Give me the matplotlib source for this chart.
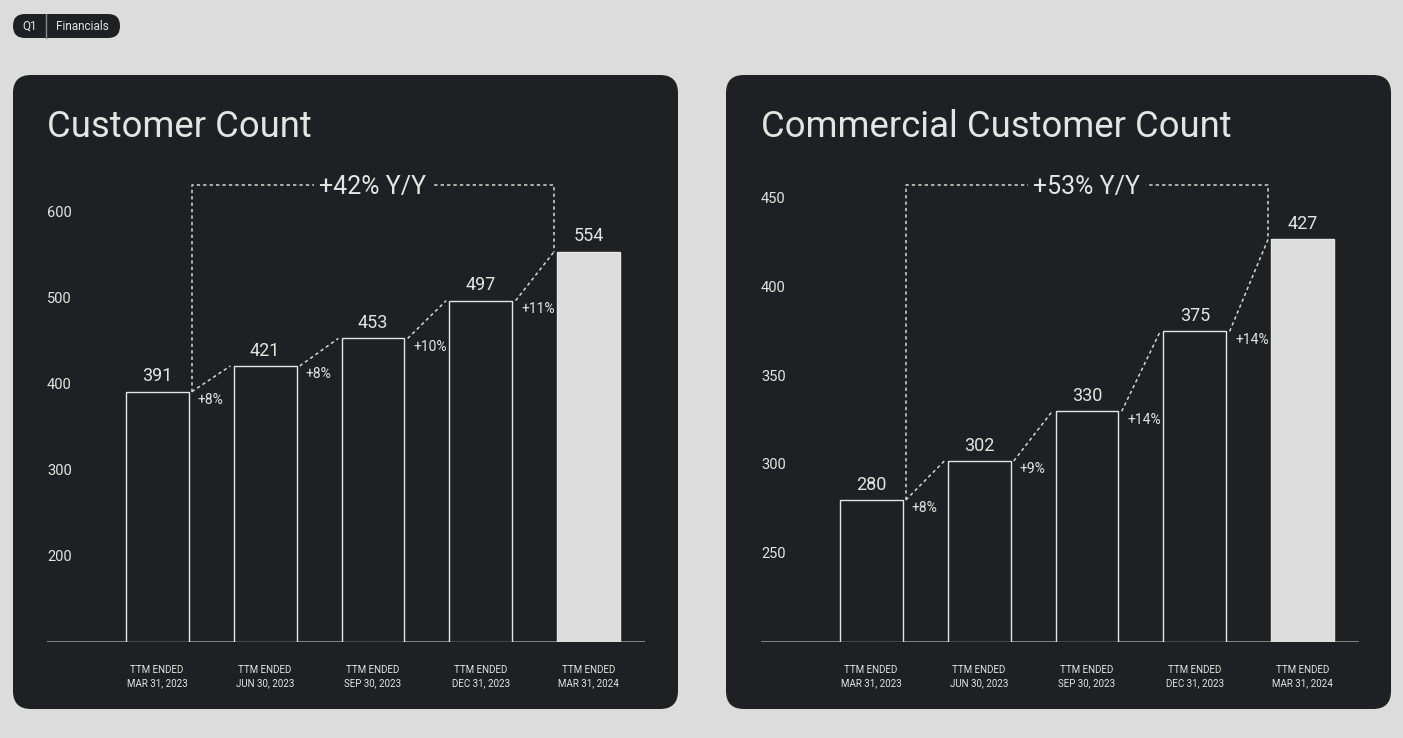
import numpy as np
import matplotlib
matplotlib.use("Agg")
import matplotlib.pyplot as plt
from matplotlib.patches import FancyBboxPatch

plt.rcParams["font.family"] = ["Roboto", "DejaVu Sans"]

W, H = 1403, 738
BG = "#dcdcdc"
PANEL = "#1f2023"
TXT = "#e4e4e4"
LINE = "#d6d6d6"

periods = ["TTM ENDED\nMAR 31, 2023", "TTM ENDED\nJUN 30, 2023", "TTM ENDED\nSEP 30, 2023",
           "TTM ENDED\nDEC 31, 2023", "TTM ENDED\nMAR 31, 2024"]

cust_title = "Customer Count"
cust_vals = [391, 421, 453, 497, 554]
cust_qoq = ["+8%", "+8%", "+10%", "+11%"]
cust_yoy = "+42% Y/Y"
cust_ticks = [200, 300, 400, 500, 600]
cust_ylim = (100, 672.1)

comm_title = "Commercial Customer Count"
comm_vals = [280, 302, 330, 375, 427]
comm_qoq = ["+8%", "+9%", "+14%", "+14%"]
comm_yoy = "+53% Y/Y"
comm_ticks = [250, 300, 350, 400, 450]
comm_ylim = (200, 477.2)

fig = plt.figure(figsize=(W / 100, H / 100), dpi=100)
fig.patch.set_facecolor(BG)

# background layer in pixel coordinates
bg = fig.add_axes([0, 0, 1, 1])
bg.set_xlim(0, W); bg.set_ylim(H, 0); bg.axis("off")

# badge
bg.add_patch(FancyBboxPatch((13, 14), 107, 24, boxstyle="round,pad=0,rounding_size=12",
                            fc=PANEL, ec="none"))
bg.plot([46, 46], [14, 38], color="#8a8a8a", lw=1)
bg.text(30, 26.5, "Q1", color=TXT, fontsize=8.5, ha="center", va="center")
bg.text(82, 26.5, "Financials", color=TXT, fontsize=8.5, ha="center", va="center")

# panels
for x0 in (13, 726):
    bg.add_patch(FancyBboxPatch((x0, 75), 665, 634, boxstyle="round,pad=0,rounding_size=18",
                                fc=PANEL, ec="none"))


def panel(px_left, title, vals, qoq, yoy, ticks, ylim):
    bg.text(px_left, 137, title, color=TXT, fontsize=26.3, ha="left", va="baseline")
    ax = fig.add_axes([px_left / W, (H - 642) / H, 598 / W, 492 / H])
    ax.set_facecolor("none")
    ax.set_xlim(-1.02, 4.52)
    ax.set_ylim(*ylim)
    for s in ax.spines.values():
        s.set_visible(False)
    ax.set_yticks([])
    ax.axhline(ylim[0], color="#8c8c8c", lw=1.3, zorder=1)

    x = np.arange(len(vals))
    w = 0.583
    fc = [PANEL] * (len(vals) - 1) + [BG]
    ax.bar(x, np.array(vals) - ylim[0], w, bottom=ylim[0], color=fc, edgecolor="#e6e6e6",
           lw=1.0, zorder=2)

    for t in ticks:
        ax.annotate(str(t), (0, t), xycoords=ax.get_yaxis_transform(), xytext=(0, -0.7),
                    textcoords="offset points", color=TXT, fontsize=10.5,
                    ha="left", va="center")

    for i, v in enumerate(vals):
        ax.annotate(str(v), (i, v), xytext=(0, 7.5), textcoords="offset points",
                    ha="center", va="baseline", color=TXT, fontsize=13)

    gap = 0.03
    dots = dict(color=LINE, lw=1.1, ls=(0, (2.2, 2)), zorder=3)
    for i, lab in enumerate(qoq):
        ax.plot([i + w / 2 + gap, i + 1 - w / 2 - gap], [vals[i], vals[i + 1]], **dots)
        ax.annotate(lab, (i + w / 2, vals[i]), xytext=(6.5, -6), textcoords="offset points",
                    ha="left", va="center", color=TXT, fontsize=10)

    # year-over-year bracket
    top = ylim[0] + 0.929 * (ylim[1] - ylim[0])
    xa = w / 2 + gap
    xb = len(vals) - 1 - w / 2 - gap
    ax.plot([xa, xa, xb, xb], [vals[0], top, top, vals[-1]], **dots)
    ax.annotate(yoy, ((xa + xb) / 2, top), xytext=(0, -1.5), textcoords="offset points",
                ha="center", va="center", color=TXT, fontsize=18, zorder=4,
                bbox=dict(fc=PANEL, ec="none", pad=4))

    ax.set_xticks(x)
    ax.set_xticklabels(periods, fontsize=7, color=TXT, linespacing=1.38)
    ax.tick_params(axis="x", length=0, pad=16.5)
    return ax


panel(47, cust_title, cust_vals, cust_qoq, cust_yoy, cust_ticks, cust_ylim)
panel(761, comm_title, comm_vals, comm_qoq, comm_yoy, comm_ticks, comm_ylim)

fig.savefig("out.png", dpi=100, facecolor=BG)
